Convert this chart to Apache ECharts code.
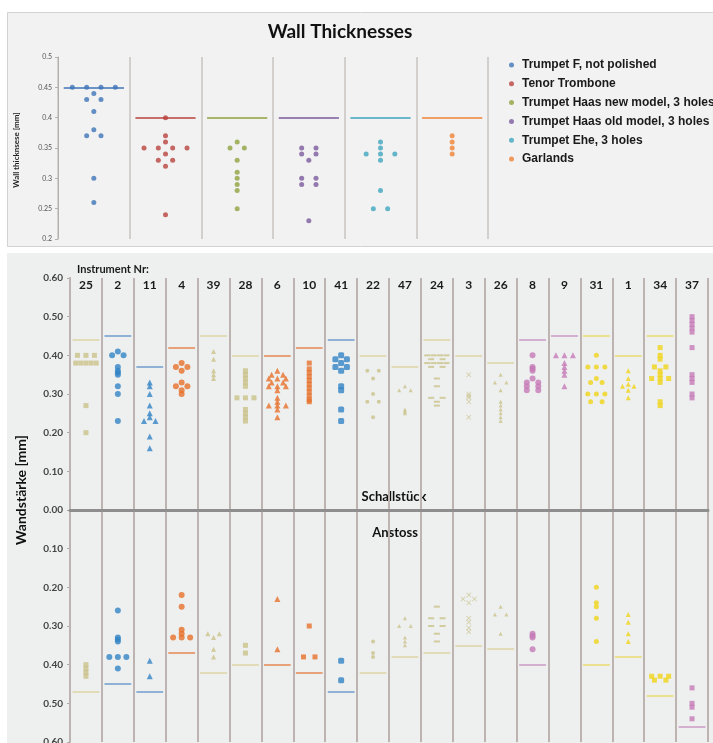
<!DOCTYPE html>
<html>
<head>
<meta charset="utf-8">
<title>Wall Thicknesses</title>
<script src="https://cdn.jsdelivr.net/npm/echarts@6.0.0/dist/echarts.min.js"></script>
<style>
  html, body { margin: 0; padding: 0; background: #fff; }
  #chart { width: 713px; height: 743px; }
</style>
</head>
<body>
<div id="chart"></div>
<script>
// ---- top chart: wall thickness per instrument type [mm]
const typeNames = [
  'Trumpet F, not polished',
  'Tenor Trombone',
  'Trumpet Haas new model, 3 holes',
  'Trumpet Haas old model, 3 holes',
  'Trumpet Ehe, 3 holes',
  'Garlands'
]
const trumpetF = [0.45, 0.45, 0.45, 0.45, 0.44, 0.43, 0.43, 0.41, 0.38, 0.37, 0.37, 0.30, 0.26]
const tenorTrombone = [0.40, 0.37, 0.36, 0.35, 0.35, 0.35, 0.35, 0.34, 0.33, 0.33, 0.32, 0.24]
const haasNew = [0.36, 0.35, 0.35, 0.33, 0.31, 0.30, 0.29, 0.28, 0.25]
const haasOld = [0.35, 0.35, 0.34, 0.34, 0.33, 0.30, 0.30, 0.29, 0.29, 0.23]
const ehe = [0.36, 0.35, 0.34, 0.34, 0.34, 0.33, 0.28, 0.25, 0.25]
const garlands = [0.37, 0.36, 0.35, 0.34]
const typeValues = [trumpetF, tenorTrombone, haasNew, haasOld, ehe, garlands]
const typeLimits = [0.45, 0.40, 0.40, 0.40, 0.40, 0.40]

// ---- bottom chart: wall thickness per instrument number [mm]
const instruments = ['25', '2', '11', '4', '39', '28', '6', '10', '41', '22', '47', '24', '3', '26', '8', '9', '31', '1', '34', '37']
// Schallstück (bell), drawn upwards
const schallValues = [
  [0.40, 0.40, 0.40, 0.38, 0.38, 0.38, 0.38, 0.38, 0.27, 0.20],
  [0.41, 0.40, 0.40, 0.37, 0.36, 0.355, 0.35, 0.32, 0.30, 0.23],
  [0.33, 0.32, 0.30, 0.27, 0.25, 0.24, 0.23, 0.23, 0.19, 0.16],
  [0.38, 0.37, 0.37, 0.36, 0.33, 0.32, 0.32, 0.31, 0.30],
  [0.41, 0.39, 0.36, 0.35, 0.34],
  [0.36, 0.35, 0.34, 0.33, 0.32, 0.29, 0.29, 0.29, 0.26, 0.25, 0.24, 0.23],
  [0.36, 0.35, 0.35, 0.34, 0.34, 0.34, 0.33, 0.33, 0.32, 0.32, 0.32, 0.31, 0.29, 0.28, 0.27, 0.27, 0.27, 0.26, 0.24],
  [0.38, 0.365, 0.355, 0.345, 0.335, 0.325, 0.315, 0.305, 0.295, 0.285, 0.28],
  [0.40, 0.39, 0.39, 0.38, 0.37, 0.37, 0.36, 0.32, 0.31, 0.26, 0.23],
  [0.36, 0.36, 0.34, 0.30, 0.28, 0.28, 0.24],
  [0.32, 0.31, 0.31, 0.26, 0.255, 0.25],
  [0.40, 0.40, 0.40, 0.40, 0.39, 0.39, 0.38, 0.38, 0.38, 0.38, 0.37, 0.37, 0.34, 0.32, 0.29, 0.29, 0.28, 0.27],
  [0.35, 0.30, 0.295, 0.29, 0.28, 0.24],
  [0.35, 0.33, 0.33, 0.31, 0.28, 0.27, 0.26, 0.25, 0.24, 0.23],
  [0.40, 0.37, 0.365, 0.36, 0.34, 0.33, 0.33, 0.32, 0.32, 0.31, 0.31],
  [0.40, 0.40, 0.40, 0.38, 0.37, 0.36, 0.35, 0.32],
  [0.40, 0.37, 0.37, 0.37, 0.34, 0.33, 0.33, 0.30, 0.30, 0.30, 0.28, 0.28],
  [0.36, 0.34, 0.325, 0.32, 0.32, 0.31, 0.29],
  [0.42, 0.40, 0.39, 0.37, 0.37, 0.36, 0.35, 0.34, 0.34, 0.34, 0.33, 0.28, 0.27],
  [0.50, 0.49, 0.48, 0.47, 0.46, 0.42, 0.35, 0.34, 0.33, 0.30, 0.29]
]
// Anstoss (joint), drawn downwards
const anstossValues = [
  [0.40, 0.41, 0.42, 0.43],
  [0.26, 0.33, 0.335, 0.34, 0.38, 0.38, 0.38, 0.41],
  [0.39, 0.43],
  [0.22, 0.25, 0.31, 0.32, 0.33, 0.33, 0.33],
  [0.32, 0.32, 0.33, 0.36, 0.38],
  [0.35, 0.37],
  [0.23, 0.36],
  [0.30, 0.38, 0.38],
  [0.39, 0.44],
  [0.34, 0.37, 0.38],
  [0.28, 0.30, 0.30, 0.33, 0.34, 0.35],
  [0.25, 0.28, 0.28, 0.30, 0.30, 0.32, 0.34],
  [0.22, 0.23, 0.23, 0.24, 0.28, 0.29, 0.305, 0.315],
  [0.25, 0.27, 0.27, 0.32],
  [0.32, 0.325, 0.33, 0.36],
  [],
  [0.20, 0.24, 0.25, 0.28, 0.34],
  [0.27, 0.29, 0.32, 0.34],
  [0.43, 0.43, 0.43, 0.44, 0.44],
  [0.46, 0.50, 0.51, 0.54]
]
const schallLimits = [0.44, 0.45, 0.37, 0.42, 0.45, 0.40, 0.40, 0.42, 0.44, 0.40, 0.37, 0.44, 0.40, 0.38, 0.44, 0.45, 0.45, 0.40, 0.45, null]
const anstossLimits = [0.47, 0.45, 0.47, 0.37, 0.42, 0.40, 0.40, 0.42, 0.47, 0.42, 0.38, 0.37, 0.35, 0.36, 0.40, null, 0.40, 0.38, 0.48, 0.56]

// ---- styles
const topColors = ['#3f74b8', '#b8423d', '#8fa23f', '#7a5a9c', '#3fa5be', '#ef8234']
const palette = {
  tan: { mark: '#c9c28a', line: '#dcd4a4' },
  blue: { mark: '#3384c5', line: '#6f9dcc' },
  orange: { mark: '#e6712a', line: '#e58852' },
  pink: { mark: '#c57bb7', line: '#cc9ac6' },
  yellow: { mark: '#f0d418', line: '#eadb6c' }
}
const colorKey = ['tan', 'blue', 'blue', 'orange', 'tan', 'tan', 'orange', 'orange', 'blue', 'tan',
  'tan', 'tan', 'tan', 'tan', 'pink', 'pink', 'yellow', 'yellow', 'yellow', 'pink']
const dash = 'path://M0,0H10V3H0Z'
const cross = 'path://M0,1L1,0L5,4L9,0L10,1L6,5L10,9L9,10L5,6L1,10L0,9L4,5Z'
const shapes = ['rect', 'circle', 'triangle', 'circle', 'triangle', 'rect', 'triangle', 'rect', 'roundRect', 'circle',
  'triangle', dash, cross, 'triangle', 'circle', 'triangle', 'circle', 'triangle', 'rect', 'rect']
const sizes = [5, 6, 6, 6, 5, 5, 6, 5, 6, 4, 4, [6, 2], 5, 4, 6, 6, 5, 5, 5, 5]

// equal values in one column are set side by side
function spread(vals, stepFor) {
  const counts = {}
  const seen = {}
  vals.forEach((v) => { counts[v] = (counts[v] || 0) + 1 })
  return vals.map((v) => {
    const n = counts[v]
    seen[v] = seen[v] === undefined ? 0 : seen[v] + 1
    return [(seen[v] - (n - 1) / 2) * stepFor(n), v]
  })
}

const lineOpts = (color) => ({
  silent: true,
  symbol: ['none', 'none'],
  label: { show: false },
  lineStyle: { color: color, width: 1.5, type: 'solid', opacity: 1 },
  emphasis: { disabled: true }
})

const topSeries = typeNames.map((name, i) => ({
  name: name,
  type: 'scatter',
  xAxisIndex: 0,
  yAxisIndex: 0,
  symbolSize: 5,
  itemStyle: { color: topColors[i] },
  data: spread(typeValues[i], () => 0.2).map(([dx, v]) => [i + 0.5 + dx, v]),
  markLine: Object.assign(lineOpts(topColors[i]), {
    data: [[{ coord: [i + 0.08, typeLimits[i]] }, { coord: [i + 0.92, typeLimits[i]] }]]
  }),
  z: 3
}))

const bottomSeries = instruments.map((nr, i) => {
  const pal = palette[colorKey[i]]
  const step = (n) => Math.min(0.36, 0.8 / n)
  const up = spread(schallValues[i], step).map(([dx, v]) => [i + 0.5 + dx, v])
  const down = spread(anstossValues[i], step).map(([dx, v]) => [i + 0.5 + dx, -v])
  const segs = []
  if (schallLimits[i] !== null) {
    segs.push([{ coord: [i + 0.08, schallLimits[i]] }, { coord: [i + 0.92, schallLimits[i]] }])
  }
  if (anstossLimits[i] !== null) {
    segs.push([{ coord: [i + 0.08, -anstossLimits[i]] }, { coord: [i + 0.92, -anstossLimits[i]] }])
  }
  return {
    name: 'Nr ' + nr,
    type: 'scatter',
    xAxisIndex: 1,
    yAxisIndex: 1,
    symbol: shapes[i],
    symbolSize: sizes[i],
    itemStyle: { color: pal.mark },
    data: up.concat(down),
    markLine: Object.assign(lineOpts(pal.line), { data: segs }),
    z: 3
  }
})

const chart = echarts.init(document.getElementById('chart'))

const option = {
  animation: false,
  textStyle: { fontFamily: 'Lato' },
  legend: {
    data: typeNames,
    orient: 'vertical',
    left: 504,
    top: 53,
    icon: 'circle',
    itemWidth: 5,
    itemHeight: 5,
    itemGap: 4.8,
    textStyle: {
      fontFamily: 'Liberation Sans',
      fontWeight: 'bold',
      fontSize: 12,
      color: '#1a1a1a',
      lineHeight: 14,
      padding: [0, 0, 0, 3]
    }
  },
  grid: [
    { left: 58, right: 225, top: 57, bottom: 504, outerBoundsMode: 'none' },
    { left: 70, right: 5, top: 278, bottom: 1, outerBoundsMode: 'none' }
  ],
  xAxis: [
    {
      gridIndex: 0,
      type: 'value',
      min: 0,
      max: 6,
      interval: 1,
      axisLine: { show: false },
      axisTick: { show: false },
      axisLabel: { show: false },
      splitLine: { show: true, lineStyle: { color: '#c9c3c1', width: 1.5 } }
    },
    {
      gridIndex: 1,
      type: 'value',
      min: 0,
      max: 20,
      interval: 1,
      axisLine: { show: true, onZero: true, lineStyle: { color: '#8e8e8e', width: 3 } },
      axisTick: { show: false },
      axisLabel: { show: false },
      splitLine: { show: true, lineStyle: { color: '#bdb4b1', width: 2 } },
      z: 1
    },
    {
      gridIndex: 1,
      type: 'category',
      position: 'top',
      data: instruments,
      axisLine: { show: false },
      axisTick: { show: false },
      axisLabel: {
        inside: true,
        interval: 0,
        margin: 1,
        fontFamily: 'Lato',
        fontWeight: 'bold',
        fontSize: 12,
        color: '#1a1a1a'
      }
    }
  ],
  yAxis: [
    {
      gridIndex: 0,
      type: 'value',
      min: 0.2,
      max: 0.5,
      interval: 0.05,
      axisLine: { show: true, lineStyle: { color: '#b5b0ae', width: 1 } },
      axisTick: { show: true, length: 3, lineStyle: { color: '#b5b0ae' } },
      axisLabel: { fontSize: 7, color: '#555', margin: 6 },
      splitLine: { show: false }
    },
    {
      gridIndex: 1,
      type: 'value',
      min: -0.6,
      max: 0.6,
      interval: 0.1,
      axisLine: { show: true, lineStyle: { color: '#b3aaa8', width: 2 } },
      axisTick: { show: true, length: 3, lineStyle: { color: '#b3aaa8' } },
      axisLabel: {
        fontSize: 10,
        fontWeight: 'bold',
        color: '#444',
        margin: 7,
        formatter: (v) => Math.abs(v).toFixed(2)
      },
      splitLine: { show: false }
    }
  ],
  graphic: [
    {
      type: 'rect',
      z: -10,
      shape: { x: 7.5, y: 12.5, width: 706, height: 234 },
      style: { fill: '#f2f2f2', stroke: '#d2d2d2', lineWidth: 1 }
    },
    {
      type: 'rect',
      z: -10,
      shape: { x: 7, y: 253, width: 706, height: 490 },
      style: { fill: '#eef0f0' }
    },
    {
      type: 'text',
      x: 340,
      y: 32,
      style: { text: 'Wall Thicknesses', font: 'bold 19px Lato', fill: '#111', align: 'center', verticalAlign: 'middle' }
    },
    {
      type: 'text',
      x: 16,
      y: 150,
      rotation: Math.PI / 2,
      style: { text: 'Wall thicknsese [mm]', font: 'bold 8px Lato', fill: '#222', align: 'center', verticalAlign: 'middle' }
    },
    {
      type: 'text',
      x: 77,
      y: 269,
      style: { text: 'Instrument Nr:', font: 'bold 11px Lato', fill: '#1a1a1a', align: 'left', verticalAlign: 'middle' }
    },
    {
      type: 'text',
      x: 21,
      y: 490,
      rotation: Math.PI / 2,
      style: { text: 'Wandstärke [mm]', font: 'bold 14px Lato', fill: '#111', align: 'center', verticalAlign: 'middle' }
    },
    {
      type: 'text',
      x: 394,
      y: 497,
      style: { text: 'Schallstück', font: 'bold 13px Lato', fill: '#111', align: 'center', verticalAlign: 'middle' }
    },
    {
      type: 'text',
      x: 395,
      y: 533,
      style: { text: 'Anstoss', font: 'bold 13px Lato', fill: '#111', align: 'center', verticalAlign: 'middle' }
    }
  ],
  series: topSeries.concat(bottomSeries)
}

chart.setOption(option)
</script>
</body>
</html>
